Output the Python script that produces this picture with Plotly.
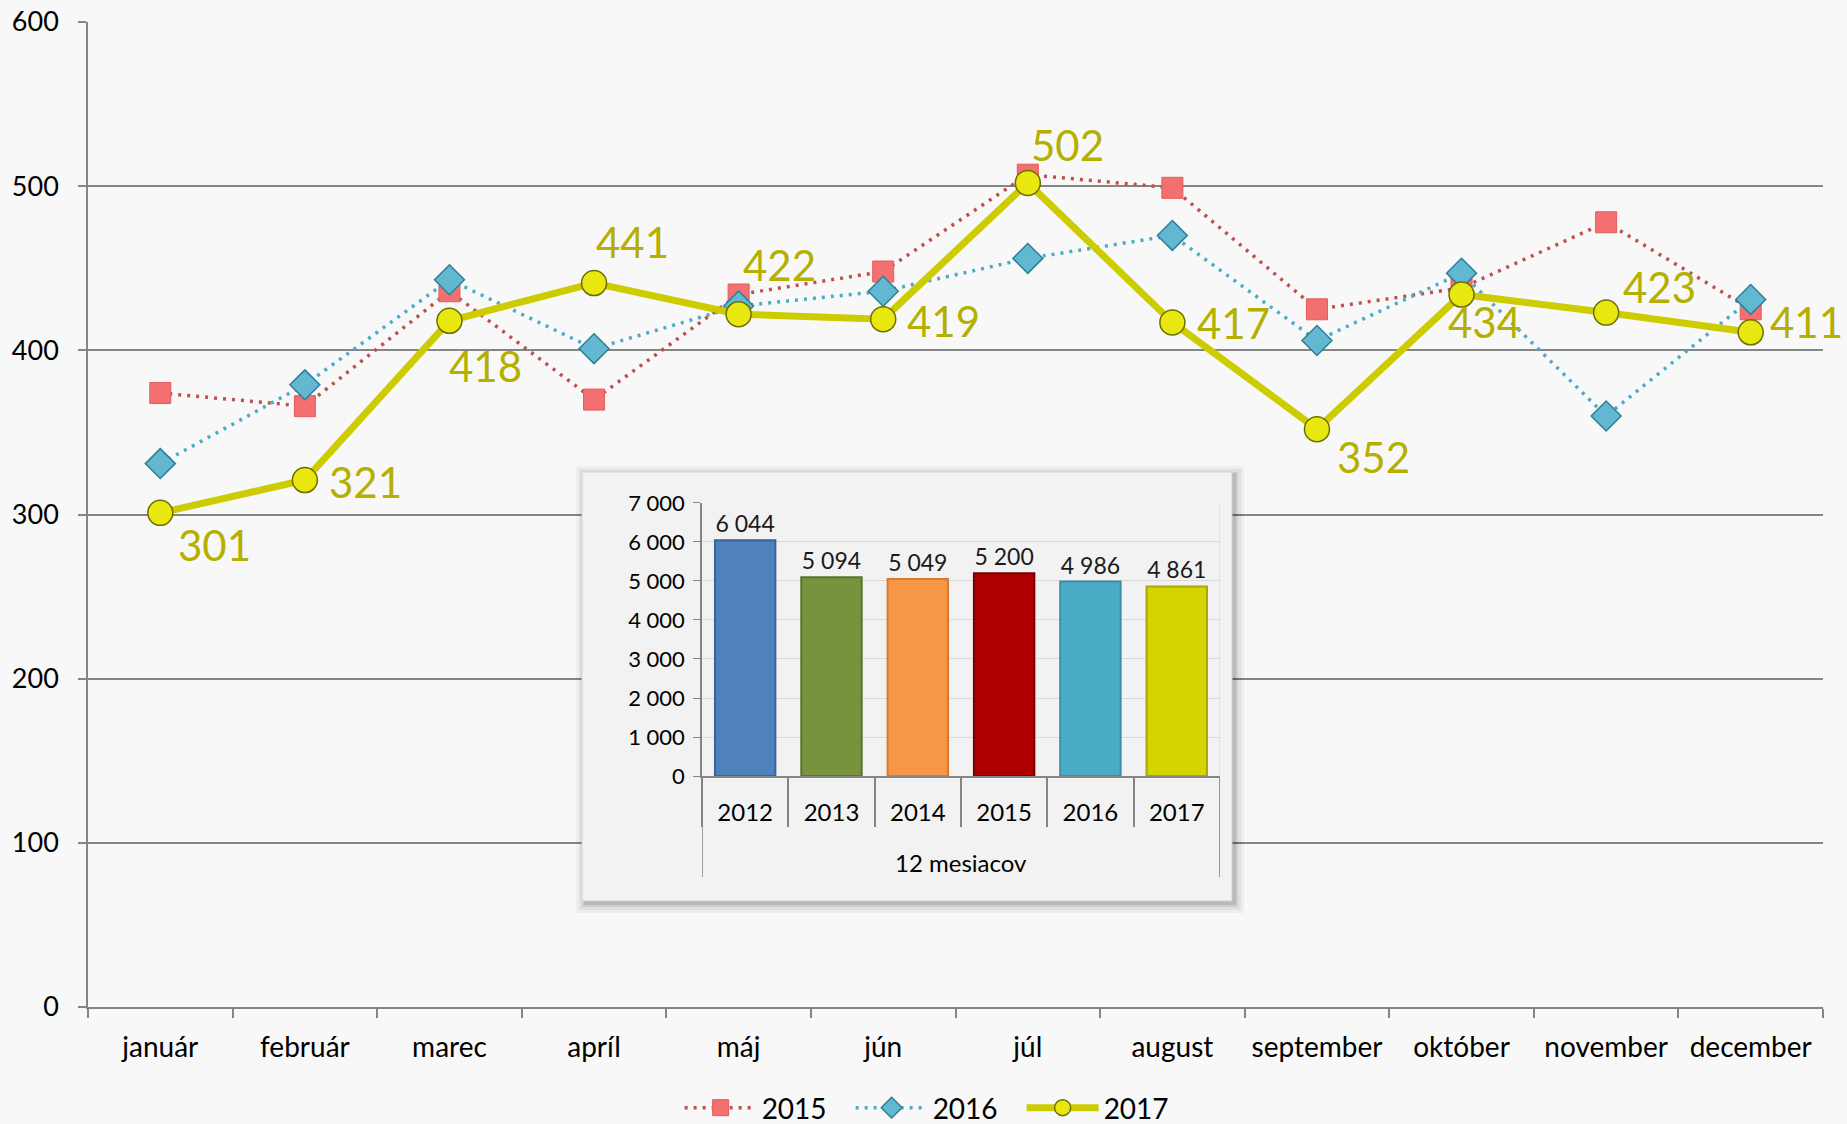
import plotly.graph_objects as go

# ---------------- data ----------------
months = ["január", "február", "marec", "apríl", "máj", "jún", "júl",
          "august", "september", "október", "november", "december"]
s2015 = [374, 366, 436, 370, 434, 448, 507, 499, 425, 438, 478, 425]
s2016 = [331, 379, 443, 401, 427, 436, 456, 470, 406, 447, 360, 431]
s2017 = [301, 321, 418, 441, 422, 419, 502, 417, 352, 434, 423, 411]
series_names = ["2015", "2016", "2017"]

years = ["2012", "2013", "2014", "2015", "2016", "2017"]
totals = [6044, 5094, 5049, 5200, 4986, 4861]
group_label = "12 mesiacov"

# ---------------- styles ----------------
# pixel offsets (right, down) of each 2017 data label from its point
label_dx = [54, 61, 36, 38, 41, 60, 40, 61, 57, 23, 53, 56]
label_dy = [32, 2, 45, -41, -49, 2, -38, 1, 28, 27, -26, -10]
bar_colors = ["#4F81BD", "#77933C", "#F79646", "#AE0000", "#4BACC6", "#D4D400"]
bar_edges = ["#3A6399", "#5C7330", "#D9782F", "#7A0000", "#3590A8", "#A8A800"]
GRID = "#858585"
FONT = "Lato, Carlito, 'Open Sans', sans-serif"

fig = go.Figure()

fig.add_trace(go.Scatter(
    x=months, y=s2015, name=series_names[0], mode="lines+markers",
    line=dict(color="#C0504D", width=3.5, dash="3px,6px"),
    marker=dict(symbol="square", size=21, color="#F47070",
                line=dict(color="#E25C5C", width=1)),
    hoverinfo="x+y+name"))
fig.add_trace(go.Scatter(
    x=months, y=s2016, name=series_names[1], mode="lines+markers",
    line=dict(color="#4BACC6", width=3.5, dash="3px,6px"),
    marker=dict(symbol="diamond", size=23, color="#62B8D0",
                line=dict(color="#2E7F96", width=1.5)),
    hoverinfo="x+y+name"))
fig.add_trace(go.Scatter(
    x=months, y=s2017, name=series_names[2], mode="lines+markers",
    line=dict(color="#CCCC00", width=7),
    marker=dict(symbol="circle", size=25, color="#E8E810",
                line=dict(color="#6E6E00", width=1.5)),
    cliponaxis=False, hoverinfo="x+y+name"))

# 2017 data labels
for m, v, dx, dy in zip(months, s2017, label_dx, label_dy):
    fig.add_annotation(x=m, y=v, xref="x", yref="y", text=str(v),
                       showarrow=False, xshift=dx, yshift=-dy,
                       xanchor="center", yanchor="middle",
                       font=dict(size=42, color="#B5AF00", family=FONT))

# inset bars (subplot x3/y3)
fig.add_trace(go.Bar(
    x=years, y=totals, xaxis="x3", yaxis="y3", showlegend=False,
    marker=dict(color=bar_colors, line=dict(color=bar_edges, width=2)),
    text=[f"{v:,}".replace(",", " ") for v in totals],
    textposition="outside", textfont=dict(size=23, color="#1A1A1A", family=FONT),
    cliponaxis=False, hoverinfo="x+y"))

# ---------------- layout ----------------
fig.update_layout(
    width=1847, height=1124,
    margin=dict(l=88, r=24, t=22, b=117, autoexpand=False),
    paper_bgcolor="#F7F8F7", plot_bgcolor="rgba(0,0,0,0)",
    separators=", ",
    font=dict(family=FONT, size=27, color="#000000"),
    bargap=0.3,
    legend=dict(orientation="h", x=0.341, xanchor="left", y=-0.1025,
                yanchor="middle", font=dict(size=28), bgcolor="rgba(0,0,0,0)",
                itemwidth=72, entrywidth=84, entrywidthmode="pixels"),
    xaxis=dict(domain=[0, 1], type="category", range=[-0.5, 11.5],
               showline=True, linecolor=GRID,
               linewidth=1.5, ticks="outside", tickson="boundaries", ticklen=9,
               tickcolor=GRID, tickwidth=1.5, showgrid=False, automargin=False,
               tickangle=0, ticklabelstandoff=15, tickfont=dict(size=28)),
    yaxis=dict(domain=[0, 1], range=[0, 600], dtick=100, showline=True,
               linecolor=GRID, linewidth=1.5, ticks="outside", ticklen=8,
               tickcolor=GRID, tickwidth=1.5, gridcolor=GRID, gridwidth=1.6,
               zeroline=False, ticklabelstandoff=14, automargin=False,
               tickfont=dict(size=27)),
    # container for the inset box
    xaxis2=dict(domain=[0.27666, 0.66744], anchor="y2", range=[0, 678],
                visible=False, fixedrange=True, automargin=False),
    yaxis2=dict(domain=[0.0934, 0.55736], anchor="x2", range=[0, 457],
                visible=False, fixedrange=True, automargin=False),
    # inset bar chart
    xaxis3=dict(domain=[0.3539, 0.6524], anchor="y3", type="category",
                range=[-0.5, 5.5], showline=True, linecolor=GRID, linewidth=1.5,
                ticks="outside", tickson="boundaries", ticklen=49, tickangle=0,
                tickcolor=GRID, tickwidth=1.5, ticklabelstandoff=14,
                showgrid=False, automargin=False, tickfont=dict(size=24)),
    yaxis3=dict(domain=[0.2345, 0.5117], anchor="x3", range=[0, 7000],
                dtick=1000, tickformat=",d", showline=True, linecolor=GRID,
                linewidth=1.5, ticks="outside", ticklen=7, tickcolor=GRID,
                gridcolor="#D9D9D9", gridwidth=1.2, zeroline=False,
                automargin=False, tickfont=dict(size=22), ticklabelstandoff=4),
)

shapes = []
# soft shadow + box (in x2/y2 container, drawn below the inset bars)
for (x0, x1, y0, y1, a) in [(8, 676, 2, 449, 0.04), (11, 673, 5, 446, 0.06),
                            (14, 670, 8, 443, 0.08), (16, 668, 10, 442, 0.10)]:
    shapes.append(dict(type="rect", xref="x2", yref="y2", x0=x0, x1=x1,
                       y0=y0, y1=y1, layer="below", line=dict(width=0),
                       fillcolor=f"rgba(0,0,0,{a})"))
shapes.append(dict(type="rect", xref="x2", yref="y2", x0=14, x1=664,
                   y0=14, y1=443, layer="below",
                   line=dict(color="#D0D0D0", width=1), fillcolor="#F2F2F2"))
# outer dividers of the multi-level category axis
shapes.append(dict(type="line", xref="x3", yref="paper", x0=-0.5, x1=-0.5,
                   y0=0.132, y1=0.2345, layer="above",
                   line=dict(color=GRID, width=1.5)))
shapes.append(dict(type="line", xref="x3", yref="paper", x0=5.5, x1=5.5,
                   y0=0.132, y1=0.2345, layer="above",
                   line=dict(color=GRID, width=1.5)))
shapes.append(dict(type="line", xref="x3", yref="paper", x0=5.5, x1=5.5,
                   y0=0.2345, y1=0.5117, layer="above",
                   line=dict(color="#D9D9D9", width=1.2)))
fig.update_layout(shapes=shapes)

fig.add_annotation(x=2.5, xref="x3", y=0.147, yref="paper", text=group_label,
                   showarrow=False, font=dict(size=24, family=FONT),
                   xanchor="center", yanchor="middle")

fig.write_html("out.html",
               config={"displayModeBar": False},
               post_script="document.body.style.margin='0';"
                           "document.body.style.background='#F7F8F7';")
